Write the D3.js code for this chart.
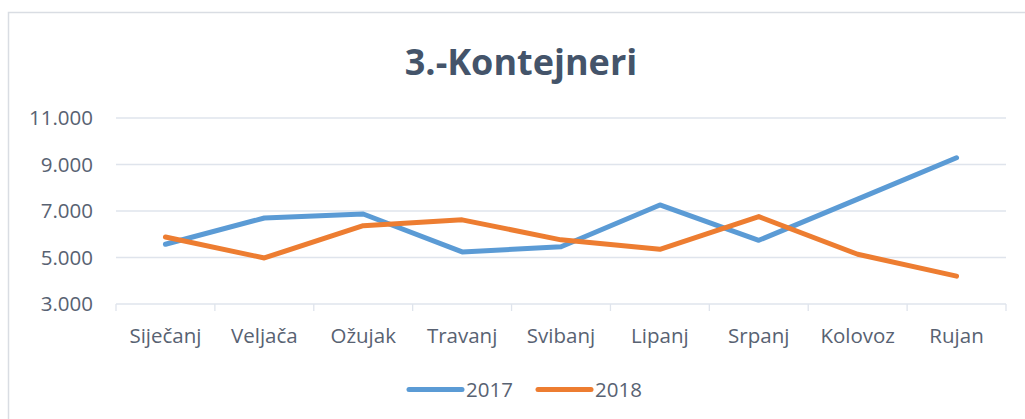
<!DOCTYPE html>
<html>
<head>
<meta charset="utf-8">
<script src="https://cdn.jsdelivr.net/npm/d3@7"></script>
<style>
  body { margin: 0; background: #fff; }
  svg { display: block; font-family: "Open Sans", sans-serif; }
</style>
</head>
<body>
<svg id="chart"></svg>
<script>
// chart data
const months = ['Siječanj', 'Veljača', 'Ožujak', 'Travanj', 'Svibanj', 'Lipanj', 'Srpanj', 'Kolovoz', 'Rujan'];
const values2017 = [5570, 6700, 6870, 5240, 5460, 7260, 5740, 7510, 9290];
const values2018 = [5880, 4980, 6370, 6620, 5760, 5350, 6760, 5140, 4200];
const seriesNames = ['2017', '2018'];
const yTicks = [3000, 5000, 7000, 9000, 11000];

const colors = ['#5B9BD5', '#ED7D31'];
const textColor = '#586272';
const fontSize = 20.5;
const W = 1025, H = 419;
const margin = { top: 118, right: 19, bottom: 115, left: 116 };
const width = W - margin.left - margin.right;
const height = H - margin.top - margin.bottom;

const svg = d3.select('#chart').attr('width', W).attr('height', H);

// outer chart border
svg.append('rect')
    .attr('x', 8.5).attr('y', 12.5)
    .attr('width', W).attr('height', H)
    .attr('fill', 'none').attr('stroke', '#d9dde3').attr('stroke-width', 1.5);

svg.append('text')
    .attr('x', 521).attr('y', 75)
    .attr('text-anchor', 'middle')
    .attr('font-size', 36).attr('font-weight', 'bold')
    .attr('fill', '#44546A')
    .text('3.-Kontejneri');

const chart = svg.append('g').attr('transform', `translate(${margin.left},${margin.top})`);

const x = d3.scaleBand().domain(months).range([0, width]);
const y = d3.scaleLinear().domain([3000, 11000]).range([height, 0]);

const fmt = d => d3.format(',')(d).replace(/,/g, '.');

// gridlines
chart.append('g')
    .selectAll('line')
    .data(yTicks.slice(1))
    .join('line')
    .attr('x1', 0).attr('x2', width)
    .attr('y1', d => y(d)).attr('y2', d => y(d))
    .attr('stroke', '#dfe4ec').attr('stroke-width', 1.3);

// y axis labels
const yAxis = d3.axisLeft(y).tickValues(yTicks).tickFormat(fmt).tickSize(0).tickPadding(23);
const yAxisG = chart.append('g').call(yAxis);
yAxisG.select('.domain').remove();
yAxisG.selectAll('text')
    .attr('font-size', fontSize)
    .attr('fill', textColor)
    .attr('font-family', '"Open Sans", sans-serif');

// x axis
const xAxisG = chart.append('g').attr('transform', `translate(0,${height})`);
xAxisG.append('line')
    .attr('x1', 0).attr('x2', width)
    .attr('stroke', '#dfe4ec').attr('stroke-width', 1.3);
xAxisG.selectAll('.tk')
    .data(d3.range(months.length + 1))
    .join('line')
    .attr('class', 'tk')
    .attr('x1', i => i * x.step()).attr('x2', i => i * x.step())
    .attr('y1', 0).attr('y2', 7)
    .attr('stroke', '#dfe4ec').attr('stroke-width', 1.3);
xAxisG.selectAll('.lbl')
    .data(months)
    .join('text')
    .attr('class', 'lbl')
    .attr('x', d => x(d) + x.bandwidth() / 2)
    .attr('y', 39)
    .attr('text-anchor', 'middle')
    .attr('font-size', fontSize).attr('fill', textColor)
    .text(d => d);

// lines
const line = d3.line()
    .x((d, i) => x(months[i]) + x.bandwidth() / 2)
    .y(d => y(d));

[values2017, values2018].forEach((vals, i) => {
  chart.append('path')
      .datum(vals)
      .attr('fill', 'none')
      .attr('stroke', colors[i])
      .attr('stroke-width', 5)
      .attr('stroke-linecap', 'round')
      .attr('stroke-linejoin', 'round')
      .attr('d', line);
});

// legend
const legend = svg.append('g').attr('transform', 'translate(407,389.5)');
seriesNames.forEach((name, i) => {
  const g = legend.append('g').attr('transform', `translate(${i * 129},0)`);
  g.append('line')
      .attr('x1', 2).attr('x2', 55)
      .attr('stroke', colors[i]).attr('stroke-width', 5)
      .attr('stroke-linecap', 'round');
  g.append('text')
      .attr('x', 59).attr('y', 7.5)
      .attr('font-size', fontSize).attr('fill', textColor)
      .text(name);
});
</script>
</body>
</html>
